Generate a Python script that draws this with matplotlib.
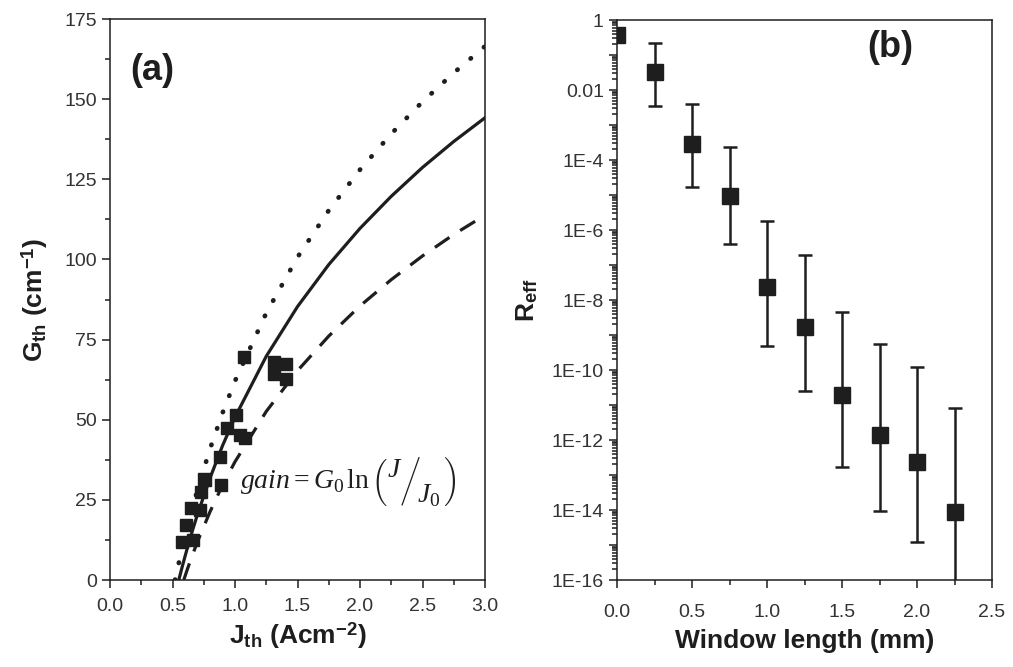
import numpy as np
import matplotlib
matplotlib.use('Agg')
import matplotlib.pyplot as plt
from matplotlib.ticker import MultipleLocator, FixedLocator, LogLocator, FuncFormatter, NullFormatter

plt.rcParams['font.family'] = 'Liberation Sans'
plt.rcParams['mathtext.fontset'] = 'custom'
plt.rcParams['mathtext.rm'] = 'Liberation Serif'
plt.rcParams['mathtext.it'] = 'Liberation Serif:italic'
plt.rcParams['mathtext.bf'] = 'Liberation Sans:bold'
plt.rcParams['mathtext.sf'] = 'Liberation Sans'

ink = '#1e1e1e'

# (a) measured threshold gain vs threshold current density
j_meas = [0.573, 0.667, 0.61, 0.65, 0.72, 0.73, 0.75, 0.76, 0.88, 0.885,
          0.933, 1.008, 1.04, 1.08, 1.075, 1.31, 1.31, 1.405, 1.405]
g_meas = [12.0, 12.5, 17.2, 22.4, 21.8, 27.5, 31.6, 31.2, 38.5, 29.6,
          47.3, 51.5, 45.2, 44.2, 69.5, 68.0, 64.4, 67.4, 62.7]

# fitted curves
j_dot = [0.52, 0.56, 0.6, 0.65, 0.7, 0.8, 0.9, 1.0, 1.25, 1.5, 1.75, 2.0, 2.25, 2.5, 2.75, 3.0]
g_dot = [0.0, 7.0, 13.6, 21.2, 28.2, 40.9, 52.1, 62.1, 83.3, 100.7, 115.3, 128.0, 139.2, 149.2, 158.2, 166.5]

j_sol = [0.55, 0.58, 0.62, 0.66, 0.7, 0.8, 0.9, 1.0, 1.25, 1.5, 1.75, 2.0, 2.25, 2.5, 2.75, 3.0]
g_sol = [0.0, 4.5, 10.2, 15.5, 20.5, 31.8, 41.9, 50.8, 69.8, 85.3, 98.4, 109.7, 119.7, 128.7, 136.8, 144.2]

j_dash = [0.59, 0.62, 0.65, 0.7, 0.8, 0.9, 1.0, 1.25, 1.5, 1.75, 2.0, 2.25, 2.5, 2.75, 3.0]
g_dash = [0.0, 3.5, 6.8, 12.0, 21.3, 29.6, 36.9, 52.6, 65.3, 76.1, 85.5, 93.7, 101.1, 107.8, 113.8]

# (b) effective reflectivity vs window length
win_len = [0.0, 0.25, 0.5, 0.75, 1.0, 1.25, 1.5, 1.75, 2.0, 2.25]
r_eff = [0.37, 0.032, 2.9e-4, 9.4e-6, 2.3e-8, 1.7e-9, 1.9e-11, 1.4e-12, 2.3e-13, 8.8e-15]
r_hi = [0.37, 0.22, 4.0e-3, 2.3e-4, 1.8e-6, 1.9e-7, 4.5e-9, 5.5e-10, 1.2e-10, 8.2e-12]
r_lo = [0.37, 3.5e-3, 1.7e-5, 4.0e-7, 4.9e-10, 2.5e-11, 1.7e-13, 9.3e-15, 1.2e-15, 1e-18]

fig = plt.figure(figsize=(10.13, 6.67), dpi=100)
ax1 = fig.add_axes([0.1086, 0.1304, 0.3702, 0.8411])
ax2 = fig.add_axes([0.6091, 0.1304, 0.3702, 0.8396])

for ax in (ax1, ax2):
    for s in ax.spines.values():
        s.set_linewidth(1.1)
        s.set_color(ink)
    ax.tick_params(which='both', direction='out', top=False, right=False,
                   color=ink, labelsize=14, labelcolor='#333333', width=1.1)
    ax.tick_params(which='major', length=6)
    ax.tick_params(which='minor', length=3.5)
ax1.tick_params(axis='x', pad=7)
ax2.tick_params(axis='x', pad=11)

# panel (a)
ax1.plot(j_dot, g_dot, color=ink, lw=3.4, linestyle=(0, (0.1, 3.6)), dash_capstyle='round')
ax1.plot(j_sol, g_sol, color=ink, lw=2.3)
ax1.plot(j_dash, g_dash, color=ink, lw=2.3, linestyle=(0, (5.5, 4)))
ax1.plot(j_meas, g_meas, 's', color=ink, ms=8.5, mec=ink)
ax1.set_xlim(0, 3.0)
ax1.set_ylim(0, 175)
ax1.xaxis.set_major_locator(MultipleLocator(0.5))
ax1.xaxis.set_minor_locator(MultipleLocator(0.25))
ax1.yaxis.set_major_locator(MultipleLocator(25))
ax1.yaxis.set_minor_locator(MultipleLocator(12.5))
ax1.set_xlabel(r'J$_\mathbf{th}$ (Acm$^\mathbf{-2}$)', fontsize=19, fontweight='bold', color=ink, labelpad=4)
ax1.set_ylabel(r'G$_\mathbf{th}$ (cm$^\mathbf{-1}$)', fontsize=19, fontweight='bold', color=ink, labelpad=10)
ax1.text(0.16, 159, '(a)', fontsize=26, fontweight='bold', color=ink, va='center')
ax1.text(1.04, 31, r'$gain = G_0\,\ln\left(\genfrac{}{}{0}{0}{J}{\,}\!\middle/\!\genfrac{}{}{0}{0}{\,}{J_0}\right)$',
         fontsize=20, color=ink, va='center', ha='left')

# panel (b)
yerr = [np.array(r_eff) - np.array(r_lo), np.array(r_hi) - np.array(r_eff)]
ax2.errorbar(win_len, r_eff, yerr=yerr, fmt='s', color=ink, ms=11,
             ecolor=ink, elinewidth=1.8, capsize=5, capthick=1.8)
ax2.set_yscale('log')
ax2.set_xlim(0, 2.5)
ax2.set_ylim(1e-16, 1)
ax2.xaxis.set_major_locator(MultipleLocator(0.5))
ax2.xaxis.set_minor_locator(MultipleLocator(0.25))
ax2.yaxis.set_major_locator(FixedLocator([10.0 ** -k for k in range(17)]))
ax2.yaxis.set_minor_locator(LogLocator(base=10, subs=range(2, 10), numticks=100))
ax2.yaxis.set_minor_formatter(NullFormatter())


def r_fmt(v, pos):
    k = int(round(-np.log10(v)))
    if k % 2:
        return ''
    if k == 0:
        return '1'
    if k == 2:
        return '0.01'
    return '1E-%d' % k


ax2.yaxis.set_major_formatter(FuncFormatter(r_fmt))
ax2.set_xlabel('Window length (mm)', fontsize=19, fontweight='bold', color=ink, labelpad=6)
ax2.set_ylabel(r'R$_\mathbf{eff}$', fontsize=19, fontweight='bold', color=ink, labelpad=8)
ax2.text(1.67, 0.16, '(b)', fontsize=26, fontweight='bold', color=ink, va='center')

fig.savefig('out.png', dpi=100)
